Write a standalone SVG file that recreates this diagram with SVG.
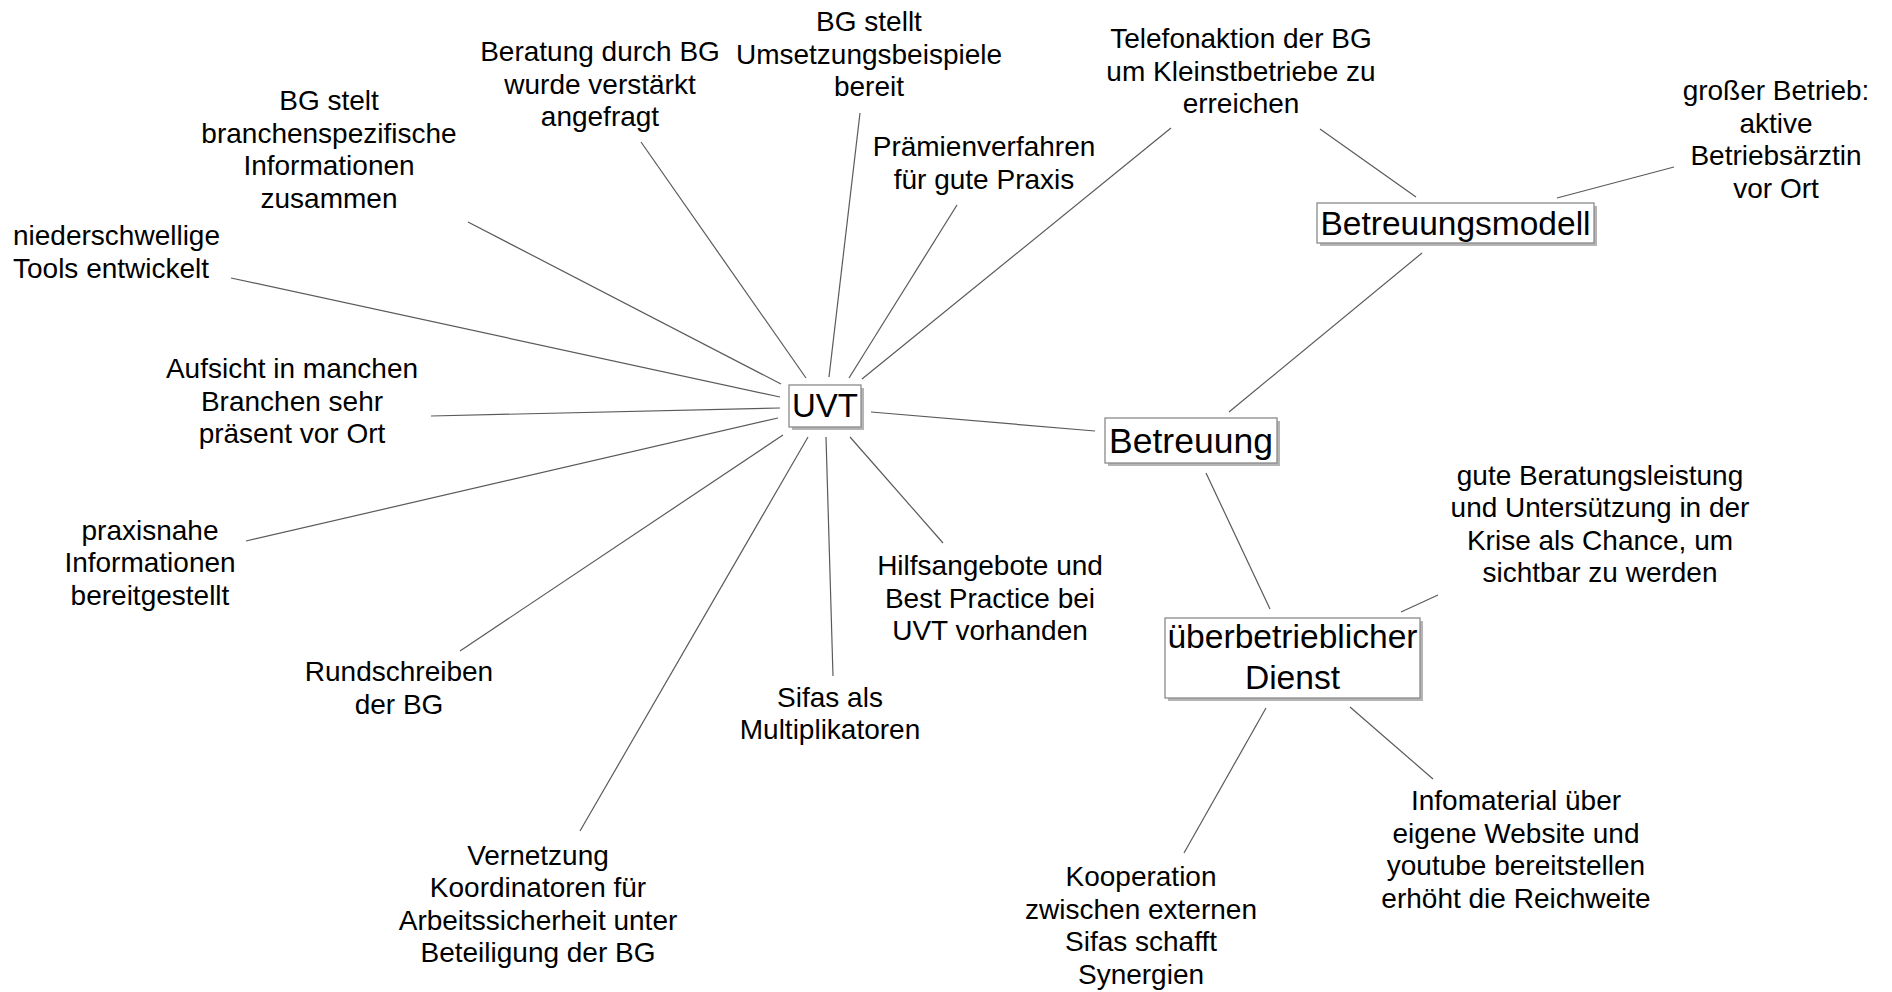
<svg xmlns="http://www.w3.org/2000/svg" width="1892" height="992" viewBox="0 0 1892 992">
  <style>
    .lbl { font-family: "Liberation Sans", Arial, sans-serif; font-size: 28px; fill: #000; text-anchor: middle; }
    .lbl.left { text-anchor: start; }
    .hub { font-family: "Liberation Sans", Arial, sans-serif; fill: #000; text-anchor: middle; }
    .box { fill: #fff; stroke: #8a8a8a; stroke-width: 1.3; }
    .shadow { fill: #b4b4b4; }
    .edge { stroke: #5a5a5a; stroke-width: 1.2; fill: none; }
  </style>
  <rect width="1892" height="992" fill="#fff"/>

  <!-- connectors -->
  <g id="connectors">
    <line class="edge" x1="468" y1="222" x2="781" y2="384"/>
    <line class="edge" x1="231" y1="278" x2="780" y2="397"/>
    <line class="edge" x1="641" y1="142" x2="806" y2="378"/>
    <line class="edge" x1="860" y1="113" x2="829" y2="377"/>
    <line class="edge" x1="957" y1="205" x2="849" y2="378"/>
    <line class="edge" x1="1171" y1="128" x2="862" y2="379"/>
    <line class="edge" x1="431" y1="416" x2="780" y2="408"/>
    <line class="edge" x1="246" y1="541" x2="778" y2="418"/>
    <line class="edge" x1="460" y1="651" x2="783" y2="435"/>
    <line class="edge" x1="580" y1="831" x2="808" y2="437"/>
    <line class="edge" x1="833" y1="676" x2="826" y2="437"/>
    <line class="edge" x1="943" y1="543" x2="850" y2="437"/>
    <line class="edge" x1="871" y1="412" x2="1095" y2="431"/>
    <line class="edge" x1="1422" y1="253" x2="1229" y2="412"/>
    <line class="edge" x1="1320" y1="129" x2="1416" y2="197"/>
    <line class="edge" x1="1557" y1="198" x2="1674" y2="167"/>
    <line class="edge" x1="1206" y1="473" x2="1270" y2="609"/>
    <line class="edge" x1="1401" y1="612" x2="1438" y2="595"/>
    <line class="edge" x1="1266" y1="708" x2="1184" y2="853"/>
    <line class="edge" x1="1350" y1="707" x2="1433" y2="779"/>
  </g>

  <!-- central nodes -->
  <g id="uvt">
    <rect class="shadow" x="792" y="388" width="72" height="42"/>
    <rect class="box" x="789" y="385" width="72" height="42"/>
    <text class="hub" x="825" y="417" font-size="33">UVT</text>
  </g>
  <g id="betreuung">
    <rect class="shadow" x="1108" y="421" width="172" height="45"/>
    <rect class="box" x="1105" y="418" width="172" height="45"/>
    <text class="hub" x="1191" y="453" font-size="35.5">Betreuung</text>
  </g>
  <g id="betreuungsmodell">
    <rect class="shadow" x="1320" y="206" width="277" height="40"/>
    <rect class="box" x="1317" y="203" width="277" height="40"/>
    <text class="hub" x="1455.5" y="235" font-size="33.5">Betreuungsmodell</text>
  </g>
  <g id="ueberbetrieblicher-dienst">
    <rect class="shadow" x="1168" y="621" width="255" height="80"/>
    <rect class="box" x="1165" y="618" width="255" height="80"/>
    <text class="hub" x="1292.5" y="648" font-size="33.6">überbetrieblicher</text>
    <text class="hub" x="1292.5" y="689" font-size="33.6">Dienst</text>
  </g>

  <!-- leaf labels -->
  <g id="branchenspezifisch">
    <text class="lbl" x="329" y="110">BG stelt</text>
    <text class="lbl" x="329" y="142.5">branchenspezifische</text>
    <text class="lbl" x="329" y="175">Informationen</text>
    <text class="lbl" x="329" y="207.5">zusammen</text>
  </g>
  <g id="tools">
    <text class="lbl left" x="13" y="245">niederschwellige</text>
    <text class="lbl left" x="13" y="277.5">Tools entwickelt</text>
  </g>
  <g id="beratung">
    <text class="lbl" x="600" y="61">Beratung durch BG</text>
    <text class="lbl" x="600" y="93.5">wurde verstärkt</text>
    <text class="lbl" x="600" y="126">angefragt</text>
  </g>
  <g id="umsetzungsbeispiele">
    <text class="lbl" x="869" y="31">BG stellt</text>
    <text class="lbl" x="869" y="63.5">Umsetzungsbeispiele</text>
    <text class="lbl" x="869" y="96">bereit</text>
  </g>
  <g id="telefonaktion">
    <text class="lbl" x="1241" y="48">Telefonaktion der BG</text>
    <text class="lbl" x="1241" y="80.5">um Kleinstbetriebe zu</text>
    <text class="lbl" x="1241" y="113">erreichen</text>
  </g>
  <g id="praemienverfahren">
    <text class="lbl" x="984" y="156">Prämienverfahren</text>
    <text class="lbl" x="984" y="188.5">für gute Praxis</text>
  </g>
  <g id="grosser-betrieb">
    <text class="lbl" x="1776" y="100">großer Betrieb:</text>
    <text class="lbl" x="1776" y="132.5">aktive</text>
    <text class="lbl" x="1776" y="165">Betriebsärztin</text>
    <text class="lbl" x="1776" y="197.5">vor Ort</text>
  </g>
  <g id="aufsicht">
    <text class="lbl" x="292" y="378">Aufsicht in manchen</text>
    <text class="lbl" x="292" y="410.5">Branchen sehr</text>
    <text class="lbl" x="292" y="443">präsent vor Ort</text>
  </g>
  <g id="praxisnahe">
    <text class="lbl" x="150" y="539.5">praxisnahe</text>
    <text class="lbl" x="150" y="572">Informationen</text>
    <text class="lbl" x="150" y="604.5">bereitgestellt</text>
  </g>
  <g id="rundschreiben">
    <text class="lbl" x="399" y="681">Rundschreiben</text>
    <text class="lbl" x="399" y="713.5">der BG</text>
  </g>
  <g id="vernetzung">
    <text class="lbl" x="538" y="864.5">Vernetzung</text>
    <text class="lbl" x="538" y="897">Koordinatoren für</text>
    <text class="lbl" x="538" y="929.5">Arbeitssicherheit unter</text>
    <text class="lbl" x="538" y="962">Beteiligung der BG</text>
  </g>
  <g id="sifas">
    <text class="lbl" x="830" y="706.5">Sifas als</text>
    <text class="lbl" x="830" y="739">Multiplikatoren</text>
  </g>
  <g id="hilfsangebote">
    <text class="lbl" x="990" y="575">Hilfsangebote und</text>
    <text class="lbl" x="990" y="607.5">Best Practice bei</text>
    <text class="lbl" x="990" y="640">UVT vorhanden</text>
  </g>
  <g id="beratungsleistung">
    <text class="lbl" x="1600" y="484.5">gute Beratungsleistung</text>
    <text class="lbl" x="1600" y="517">und Untersützung in der</text>
    <text class="lbl" x="1600" y="549.5">Krise als Chance, um</text>
    <text class="lbl" x="1600" y="582">sichtbar zu werden</text>
  </g>
  <g id="infomaterial">
    <text class="lbl" x="1516" y="810">Infomaterial über</text>
    <text class="lbl" x="1516" y="842.5">eigene Website und</text>
    <text class="lbl" x="1516" y="875">youtube bereitstellen</text>
    <text class="lbl" x="1516" y="907.5">erhöht die Reichweite</text>
  </g>
  <g id="kooperation">
    <text class="lbl" x="1141" y="886">Kooperation</text>
    <text class="lbl" x="1141" y="918.5">zwischen externen</text>
    <text class="lbl" x="1141" y="951">Sifas schafft</text>
    <text class="lbl" x="1141" y="983.5">Synergien</text>
  </g>
</svg>
